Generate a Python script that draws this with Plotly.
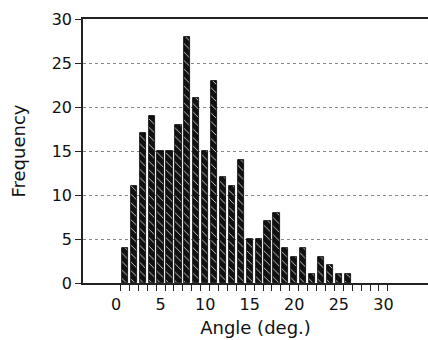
import plotly.graph_objects as go

angles = list(range(1, 27))
frequency = [4, 11, 17, 19, 15, 15, 18, 28, 21, 15, 23, 12, 11, 14,
             5, 5, 7, 8, 4, 3, 4, 1, 3, 2, 1, 1]
x_tick_labels = [0, 5, 10, 15, 20, 25, 30]
y_tick_labels = [0, 5, 10, 15, 20, 25, 30]
bin_edges = [v + 0.5 for v in range(0, 31)]

FONT = "DejaVu Sans"
xr = [-3.7, 35.0]

fig = go.Figure()
fig.add_trace(go.Bar(
    x=angles, y=frequency, width=0.7,
    marker=dict(
        color="#111111",
        line=dict(color="#000000", width=0.8),
        pattern=dict(shape="\\", fgcolor="#ffffff", bgcolor="#111111",
                     size=6, solidity=0.12, fillmode="replace"),
    ),
    showlegend=False, hoverinfo="skip",
))
fig.add_trace(go.Scatter(x=[0], y=[0], xaxis="x2", mode="markers",
                         marker=dict(opacity=0), showlegend=False,
                         hoverinfo="skip"))

fig.update_layout(
    width=428, height=340,
    margin=dict(l=83, r=0, t=19, b=57),
    paper_bgcolor="white", plot_bgcolor="white",
    font=dict(family=FONT, size=16, color="#111111"),
    bargap=0,
    xaxis=dict(
        range=xr, tickmode="array", tickvals=bin_edges,
        ticktext=["" for _ in bin_edges],
        ticks="outside", ticklen=6, tickwidth=1, tickcolor="#222",
        showgrid=False, zeroline=False, automargin=False,
        showline=True, linecolor="#222", linewidth=1.5, mirror=True,
    ),
    xaxis2=dict(
        range=xr, overlaying="x", side="bottom", anchor="y",
        tickmode="array", tickvals=x_tick_labels,
        ticktext=[str(v) for v in x_tick_labels],
        ticks="", showgrid=False, zeroline=False, showline=False,
        ticklabelstandoff=10, automargin=False,
        tickfont=dict(size=16),
        title=dict(text="Angle (deg.)", font=dict(size=18), standoff=8),
    ),
    yaxis=dict(
        range=[0, 30], tickmode="array", tickvals=y_tick_labels,
        ticktext=[str(v) for v in y_tick_labels],
        ticks="outside", ticklen=6, tickwidth=1, tickcolor="#222",
        showgrid=True, gridcolor="#888", gridwidth=0.8, griddash="dot",
        zeroline=False, showline=True, linecolor="#222", linewidth=1.5,
        tickfont=dict(size=16), automargin=False,
        title=dict(text="Frequency", font=dict(size=18), standoff=21),
    ),
)

fig.write_html("out.html",
               config={"displayModeBar": False},
               post_script="document.body.style.margin='0';"
                           "document.body.style.padding='0';")
